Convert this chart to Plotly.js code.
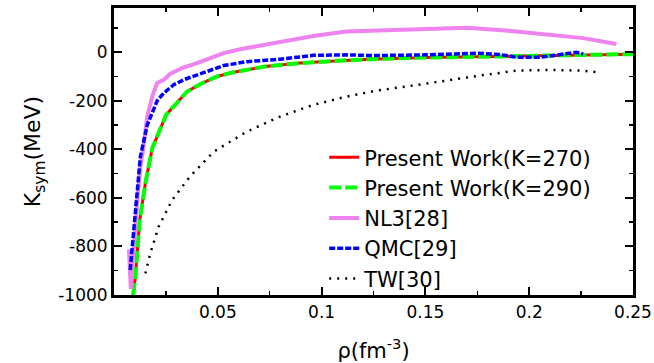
<!DOCTYPE html>
<html>
<head>
<meta charset="utf-8">
<script src="https://cdn.plot.ly/plotly-3.0.1.min.js"></script>
<style>html,body{margin:0;padding:0;background:#fff;}#chart{width:654px;height:363px;}</style>
</head>
<body>
<div id="chart"></div>
<script>
// Present Work (K=270)
const pw270X = [0.0092, 0.0103, 0.0124, 0.0151, 0.0184, 0.0251, 0.0352, 0.0424, 0.0496, 0.0568, 0.0728, 0.0897, 0.1065, 0.123, 0.15, 0.175, 0.2, 0.225, 0.25];
const pw270Y = [-1000, -924, -691, -540, -396, -258, -162, -128, -100, -84, -59, -45, -36, -29, -22, -18, -14, -11, -8];
// Present Work (K=290)
const pw290X = [0.0092, 0.0103, 0.0124, 0.0151, 0.0184, 0.0251, 0.0352, 0.0424, 0.0496, 0.0568, 0.0728, 0.0897, 0.1065, 0.123, 0.15, 0.175, 0.2, 0.225, 0.25];
const pw290Y = [-1000, -924, -691, -540, -396, -258, -162, -128, -100, -84, -59, -45, -36, -29, -22, -18, -14, -11, -8];
// NL3 [28]
const nl3X = [0.0072, 0.0077, 0.0081, 0.0088, 0.0098, 0.0112, 0.0127, 0.014, 0.016, 0.0185, 0.0208, 0.024, 0.027, 0.033, 0.040, 0.0528, 0.0608, 0.080, 0.096, 0.112, 0.125, 0.150, 0.170, 0.190, 0.210, 0.226, 0.242];
const nl3Y = [-812, -900, -975, -880, -760, -610, -470, -402, -265, -180, -127, -114, -89, -65, -45, -4, 12, 44, 67, 85, 89, 95, 101, 88, 73, 58, 34];
// QMC [29]
const qmcX = [0.0078, 0.0095, 0.0111, 0.0127, 0.016, 0.0208, 0.024, 0.0288, 0.034, 0.040, 0.0528, 0.064, 0.080, 0.096, 0.112, 0.125, 0.150, 0.1746, 0.186, 0.194, 0.205, 0.213, 0.2227, 0.226];
const qmcY = [-897, -746, -581, -430, -300, -200, -168, -134, -112, -94, -55, -39, -29, -13, -11, -14, -11, -4, -10, -21, -21, -12, 0, -8];
// TW [30]
const twX = [0.0151, 0.0175, 0.0215, 0.028, 0.0368, 0.048, 0.064, 0.080, 0.096, 0.112, 0.1265, 0.146, 0.178, 0.194, 0.210, 0.226, 0.234];
const twY = [-911, -828, -719, -609, -510, -410, -327, -265, -217, -183, -158, -135, -94, -76, -73, -76, -84];

const xTickVals = [0.05, 0.1, 0.15, 0.2, 0.25];
const xTickText = ['0.05', '0.1', '0.15', '0.2', '0.25'];
const yTickVals = [-1000, -800, -600, -400, -200, 0];
const yTickText = ['-1000', '-800', '-600', '-400', '-200', '0'];

const traces = [
  {x: pw270X, y: pw270Y, name: 'Present Work(K=270)', mode: 'lines', line: {color: '#ff0000', width: 3}},
  {x: pw290X, y: pw290Y, name: 'Present Work(K=290)', mode: 'lines', line: {color: '#00ff00', width: 4, dash: '12px,4px'}},
  {x: nl3X, y: nl3Y, name: 'NL3[28]', mode: 'lines', line: {color: '#ee82ee', width: 4}},
  {x: qmcX, y: qmcY, name: 'QMC[29]', mode: 'lines', line: {color: '#0000ff', width: 3.5, dash: '6px,2px'}},
  {x: twX, y: twY, name: 'TW[30]', mode: 'lines', line: {color: '#000000', width: 2.5, dash: '2px,6px'}}
];

const FAM = 'DejaVu Sans';

const layout = {
  width: 654, height: 363,
  margin: {l: 113.5, r: 21, t: 8, b: 68},
  paper_bgcolor: '#fff', plot_bgcolor: '#fff',
  showlegend: true,
  font: {family: FAM, color: '#000', size: 17},
  xaxis: {
    range: [0, 0.25], tickvals: xTickVals, ticktext: xTickText,
    ticks: 'inside', ticklen: 8, tickwidth: 2, tickcolor: '#000',
    showline: true, linewidth: 3, linecolor: '#000', mirror: 'ticks',
    showgrid: false, zeroline: false,
    tickfont: {family: FAM, size: 17, color: '#000'},
    minor: {ticks: 'inside', ticklen: 4, tickwidth: 1.5, tickcolor: '#000', dtick: 0.025, tick0: 0, showgrid: false},
    title: {text: 'ρ(fm<sup>-3</sup>)', font: {family: FAM, size: 21, color: '#000'}, standoff: 22}
  },
  yaxis: {
    range: [-1000, 182], tickvals: yTickVals, ticktext: yTickText,
    ticks: 'inside', ticklen: 8, tickwidth: 2, tickcolor: '#000',
    showline: true, linewidth: 3, linecolor: '#000', mirror: 'ticks',
    showgrid: false, zeroline: false,
    tickfont: {family: FAM, size: 17, color: '#000'},
    minor: {ticks: 'inside', ticklen: 4, tickwidth: 1.5, tickcolor: '#000', dtick: 100, tick0: 0, showgrid: false},
    title: {text: 'K<sub>sym</sub>(MeV)', font: {family: FAM, size: 22, color: '#000'}, standoff: 12}
  },
  legend: {
    x: 0.405, y: 0.55, xanchor: 'left', yanchor: 'top',
    bgcolor: 'rgba(255,255,255,0)', borderwidth: 0,
    font: {family: FAM, size: 21, color: '#000'},
    tracegroupgap: 0
  }
};

Plotly.newPlot('chart', traces, layout, {staticPlot: true, displayModeBar: false});
</script>
</body>
</html>
